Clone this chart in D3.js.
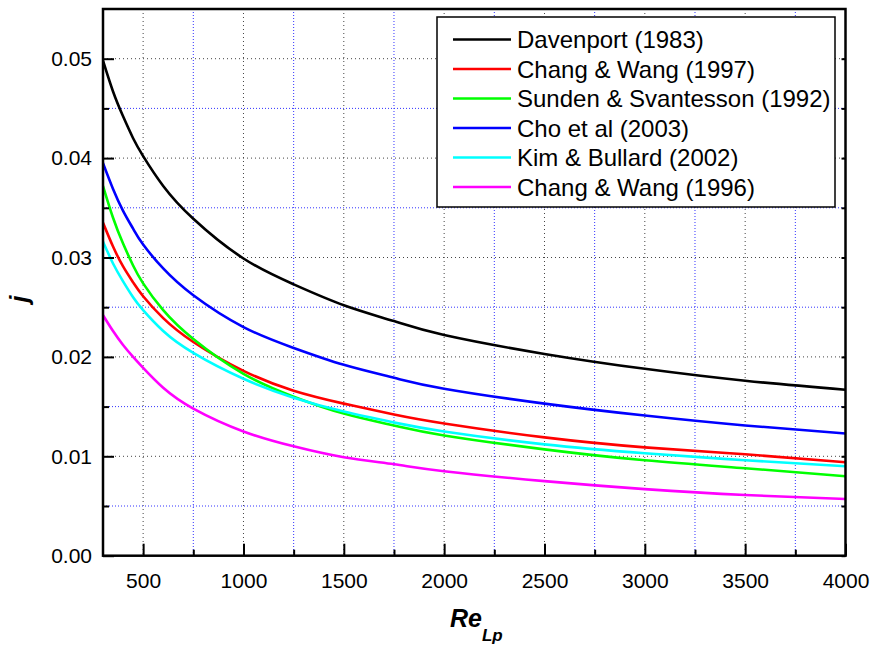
<!DOCTYPE html>
<html>
<head>
<meta charset="utf-8">
<script src="https://cdn.jsdelivr.net/npm/d3@7"></script>
<style>
  html, body { margin: 0; padding: 0; background: #fff; }
  svg { display: block; font-family: "Liberation Sans", Arial, sans-serif; }
</style>
</head>
<body>
<div id="chart"></div>
<script>
// Re_Lp sample points
const reynolds = [300, 350, 400, 450, 500, 600, 750, 1000, 1250, 1500, 1750, 2000, 2500, 3000, 3500, 4000];

const davenport1983 = [0.0498, 0.0467, 0.0442, 0.0420, 0.0402, 0.0372, 0.0339, 0.0299, 0.0273, 0.0252, 0.0236, 0.0222, 0.0203, 0.0188, 0.0176, 0.0167];
const changWang1997 = [0.0335, 0.0311, 0.0291, 0.0275, 0.0261, 0.0239, 0.0215, 0.0186, 0.0166, 0.0153, 0.0142, 0.0133, 0.0119, 0.0109, 0.0102, 0.0094];
const sunden1992 = [0.0372, 0.0340, 0.0314, 0.0292, 0.0274, 0.0247, 0.0218, 0.0183, 0.0160, 0.0143, 0.0131, 0.0121, 0.0107, 0.0096, 0.0088, 0.0080];
const cho2003 = [0.0395, 0.0369, 0.0347, 0.0329, 0.0313, 0.0289, 0.0262, 0.0230, 0.0209, 0.0192, 0.0179, 0.0168, 0.0153, 0.0141, 0.0131, 0.0123];
const kimBullard2002 = [0.0316, 0.0294, 0.0276, 0.0260, 0.0247, 0.0226, 0.0204, 0.0178, 0.0159, 0.0145, 0.0134, 0.0125, 0.0112, 0.0103, 0.0096, 0.0090];
const changWang1996 = [0.0242, 0.0226, 0.0212, 0.0200, 0.0189, 0.0169, 0.0148, 0.0125, 0.0110, 0.0099, 0.0092, 0.0085, 0.0075, 0.0067, 0.0061, 0.0057];

const seriesNames = ["Davenport (1983)", "Chang & Wang (1997)", "Sunden & Svantesson (1992)", "Cho et al (2003)", "Kim & Bullard (2002)", "Chang & Wang (1996)"];
const seriesValues = [davenport1983, changWang1997, sunden1992, cho2003, kimBullard2002, changWang1996];
const seriesColors = ["#000000", "#ff0000", "#00ff00", "#0000ff", "#00ffff", "#ff00ff"];

const xMajorTicks = [500, 1000, 1500, 2000, 2500, 3000, 3500, 4000];
const xMinorTicks = [750, 1250, 1750, 2250, 2750, 3250, 3750];
const yMajorTicks = [0, 0.01, 0.02, 0.03, 0.04, 0.05];
const yMinorTicks = [0.005, 0.015, 0.025, 0.035, 0.045];

const width = 882;
const height = 647;
const margin = { top: 9, right: 36.5, bottom: 91.3, left: 103 };
const plotW = width - margin.left - margin.right;
const plotH = height - margin.top - margin.bottom;

const svg = d3.select("#chart").append("svg")
    .attr("width", width)
    .attr("height", height);

const g = svg.append("g")
    .attr("transform", `translate(${margin.left},${margin.top})`);

const x = d3.scaleLinear().domain([300, 4000]).range([0, plotW]);
const y = d3.scaleLinear().domain([0, 0.055]).range([plotH, 0]);

svg.append("defs").append("clipPath")
    .attr("id", "plotClip")
    .append("rect")
    .attr("width", plotW)
    .attr("height", plotH);

// grid lines: black dotted for major, blue dotted for minor
const grid = g.append("g").attr("class", "grid");

grid.selectAll(".vmajor")
    .data(xMajorTicks.filter(d => d < 4000))
    .enter().append("line")
    .attr("x1", d => x(d)).attr("x2", d => x(d))
    .attr("y1", 0).attr("y2", plotH)
    .attr("stroke", "#444").attr("stroke-width", 1)
    .attr("stroke-dasharray", "1,3");

grid.selectAll(".vminor")
    .data(xMinorTicks)
    .enter().append("line")
    .attr("x1", d => x(d)).attr("x2", d => x(d))
    .attr("y1", 0).attr("y2", plotH)
    .attr("stroke", "#3333ff").attr("stroke-width", 1)
    .attr("stroke-dasharray", "1,2");

grid.selectAll(".hmajor")
    .data(yMajorTicks.filter(d => d > 0))
    .enter().append("line")
    .attr("x1", 0).attr("x2", plotW)
    .attr("y1", d => y(d)).attr("y2", d => y(d))
    .attr("stroke", "#444").attr("stroke-width", 1)
    .attr("stroke-dasharray", "1,3");

grid.selectAll(".hminor")
    .data(yMinorTicks)
    .enter().append("line")
    .attr("x1", 0).attr("x2", plotW)
    .attr("y1", d => y(d)).attr("y2", d => y(d))
    .attr("stroke", "#3333ff").attr("stroke-width", 1)
    .attr("stroke-dasharray", "1,2");

// curves
const line = d3.line()
    .x(d => x(d[0]))
    .y(d => y(d[1]))
    .curve(d3.curveNatural);

g.append("g")
    .attr("clip-path", "url(#plotClip)")
    .selectAll("path")
    .data(seriesValues)
    .enter().append("path")
    .attr("fill", "none")
    .attr("stroke", (d, i) => seriesColors[i])
    .attr("stroke-width", 2.6)
    .attr("d", d => line(reynolds.map((r, k) => [r, d[k]])));

// axes with inward ticks
const xAxis = g.append("g")
    .attr("transform", `translate(0,${plotH})`)
    .call(d3.axisBottom(x).tickValues(xMajorTicks).tickSize(-12).tickPadding(17).tickFormat(d3.format("d")));
xAxis.append("g")
    .call(d3.axisBottom(x).tickValues(xMinorTicks).tickSize(-6).tickFormat(""));

const yAxis = g.append("g")
    .call(d3.axisLeft(y).tickValues(yMajorTicks).tickSize(-11).tickPadding(11).tickFormat(d3.format(".2f")));
yAxis.append("g")
    .call(d3.axisLeft(y).tickValues(yMinorTicks).tickSize(-6).tickFormat(""));

const rightAxis = g.append("g")
    .attr("transform", `translate(${plotW},0)`)
    .call(d3.axisRight(y).tickValues(yMajorTicks.concat(yMinorTicks)).tickSize(-4).tickFormat(""));

g.selectAll(".domain").remove();
g.selectAll(".tick line").attr("stroke", "#000").attr("stroke-width", 2);
g.selectAll(".tick text")
    .attr("fill", "#000")
    .style("font-size", "21px")
    .style("font-family", "'Liberation Sans', Arial, sans-serif");

// frame
g.append("rect")
    .attr("width", plotW)
    .attr("height", plotH)
    .attr("fill", "none")
    .attr("stroke", "#000")
    .attr("stroke-width", 2.5);

// axis titles
const xTitle = svg.append("text")
    .attr("x", 450)
    .attr("y", 627)
    .style("font-size", "25px")
    .style("font-weight", "bold")
    .style("font-style", "italic");
xTitle.append("tspan").text("Re");
xTitle.append("tspan")
    .attr("dy", 14)
    .style("font-size", "17px")
    .text("Lp");

svg.append("text")
    .attr("transform", "translate(28,299) rotate(-90)")
    .attr("text-anchor", "middle")
    .style("font-size", "25px")
    .style("font-weight", "bold")
    .style("font-style", "italic")
    .text("j");

// legend
const legend = svg.append("g");
legend.append("rect")
    .attr("x", 437)
    .attr("y", 17)
    .attr("width", 398)
    .attr("height", 190)
    .attr("fill", "#fff")
    .attr("stroke", "#000")
    .attr("stroke-width", 1.5);

const legendRows = legend.selectAll(".row")
    .data(seriesNames)
    .enter().append("g")
    .attr("transform", (d, i) => `translate(453,${39.5 + i * 29.5})`);

legendRows.append("line")
    .attr("x1", 0).attr("x2", 58)
    .attr("stroke", (d, i) => seriesColors[i])
    .attr("stroke-width", 2.6);

legendRows.append("text")
    .attr("x", 64)
    .attr("y", 8.5)
    .style("font-size", "24px")
    .text(d => d);
</script>
</body>
</html>
